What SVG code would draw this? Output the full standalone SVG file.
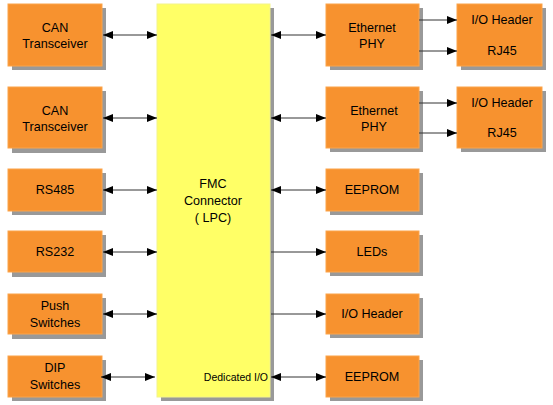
<svg xmlns="http://www.w3.org/2000/svg" width="553" height="405" viewBox="0 0 553 405">
<defs>
<marker id="ah" viewBox="0 0 10 8" refX="10" refY="4" markerWidth="10" markerHeight="8" markerUnits="userSpaceOnUse" orient="auto-start-reverse">
<path d="M0,0 L10,4 L0,8 z" fill="#000"/>
</marker>
<style>
.box{fill:#F7922F;stroke:#FBA44A;stroke-width:1}
.sh{fill:#999}
.fmc{fill:#FFFF66;stroke:#F4F48A;stroke-width:1}
text{font-family:"Liberation Sans",Arial,sans-serif;font-size:12.6px;fill:#000;text-anchor:middle}
.c line{stroke:#333;stroke-width:1}
</style>
</defs>
<rect width="553" height="405" fill="#fff"/>

<g id="fmc">
<rect class="sh" x="161" y="8" width="113" height="393"/>
<rect class="fmc" x="157" y="4" width="113" height="393"/>
<text x="213" y="188">FMC</text>
<text x="213" y="205">Connector</text>
<text x="213" y="222">( LPC)</text>
<text x="268" y="381" style="text-anchor:end;font-size:10.5px">Dedicated I/O</text>
</g>

<g id="can1">
<rect class="sh" x="12" y="8" width="94" height="62"/>
<rect class="box" x="8" y="4" width="94" height="62"/>
<text x="55" y="32">CAN</text>
<text x="55" y="48">Transceiver</text>
</g>
<g id="can2">
<rect class="sh" x="12" y="91" width="94" height="62"/>
<rect class="box" x="8" y="87" width="94" height="61"/>
<text x="55" y="115">CAN</text>
<text x="55" y="131">Transceiver</text>
</g>
<g id="rs485">
<rect class="sh" x="12" y="173" width="94" height="42"/>
<rect class="box" x="8" y="169" width="94" height="42"/>
<text x="55" y="194">RS485</text>
</g>
<g id="rs232">
<rect class="sh" x="12" y="235" width="94" height="42"/>
<rect class="box" x="8" y="231" width="94" height="41"/>
<text x="55" y="256">RS232</text>
</g>
<g id="push">
<rect class="sh" x="12" y="298" width="94" height="41"/>
<rect class="box" x="8" y="294" width="94" height="40"/>
<text x="55" y="310">Push</text>
<text x="55" y="327">Switches</text>
</g>
<g id="dip">
<rect class="sh" x="12" y="360" width="94" height="41"/>
<rect class="box" x="8" y="356" width="94" height="41"/>
<text x="55" y="372">DIP</text>
<text x="55" y="389">Switches</text>
</g>

<g id="eth1">
<rect class="sh" x="330" y="8" width="93" height="62"/>
<rect class="box" x="326" y="4" width="93" height="62"/>
<text x="372" y="32">Ethernet</text>
<text x="372" y="48">PHY</text>
</g>
<g id="hdr1">
<rect class="sh" x="461" y="8" width="85" height="62"/>
<rect class="box" x="457" y="4" width="85" height="62"/>
<text x="502" y="24">I/O Header</text>
<text x="502" y="55">RJ45</text>
</g>
<g id="eth2">
<rect class="sh" x="330" y="91" width="93" height="61"/>
<rect class="box" x="326" y="87" width="93" height="61"/>
<text x="374" y="115">Ethernet</text>
<text x="374" y="131">PHY</text>
</g>
<g id="hdr2">
<rect class="sh" x="461" y="91" width="85" height="61"/>
<rect class="box" x="457" y="87" width="85" height="61"/>
<text x="502" y="107">I/O Header</text>
<text x="502" y="137">RJ45</text>
</g>
<g id="eeprom1">
<rect class="sh" x="330" y="173" width="93" height="42"/>
<rect class="box" x="326" y="169" width="93" height="42"/>
<text x="372" y="194">EEPROM</text>
</g>
<g id="leds">
<rect class="sh" x="330" y="235" width="93" height="41"/>
<rect class="box" x="326" y="231" width="93" height="41"/>
<text x="372" y="256">LEDs</text>
</g>
<g id="iohdr">
<rect class="sh" x="330" y="298" width="93" height="40"/>
<rect class="box" x="326" y="294" width="93" height="40"/>
<text x="372" y="318">I/O Header</text>
</g>
<g id="eeprom2">
<rect class="sh" x="330" y="360" width="93" height="41"/>
<rect class="box" x="326" y="356" width="93" height="41"/>
<text x="372" y="381">EEPROM</text>
</g>

<g id="connectors" class="c">
<line x1="103" y1="35" x2="157" y2="35" marker-start="url(#ah)" marker-end="url(#ah)"/>
<line x1="103" y1="118" x2="157" y2="118" marker-start="url(#ah)" marker-end="url(#ah)"/>
<line x1="103" y1="190" x2="157" y2="190" marker-start="url(#ah)" marker-end="url(#ah)"/>
<line x1="103" y1="252" x2="157" y2="252" marker-start="url(#ah)" marker-end="url(#ah)"/>
<line x1="103" y1="314" x2="157" y2="314" marker-start="url(#ah)" marker-end="url(#ah)"/>
<line x1="101" y1="377" x2="155" y2="377" marker-start="url(#ah)" marker-end="url(#ah)"/>
<line x1="271" y1="35" x2="326" y2="35" marker-start="url(#ah)" marker-end="url(#ah)"/>
<line x1="271" y1="118" x2="326" y2="118" marker-start="url(#ah)" marker-end="url(#ah)"/>
<line x1="271" y1="190" x2="326" y2="190" marker-start="url(#ah)" marker-end="url(#ah)"/>
<line x1="271" y1="252" x2="326" y2="252" marker-end="url(#ah)"/>
<line x1="271" y1="314" x2="326" y2="314" marker-end="url(#ah)"/>
<line x1="271" y1="377" x2="326" y2="377" marker-start="url(#ah)" marker-end="url(#ah)"/>
<line x1="419" y1="20" x2="457" y2="20" marker-end="url(#ah)"/>
<line x1="419" y1="51" x2="457" y2="51" marker-end="url(#ah)"/>
<line x1="419" y1="103" x2="457" y2="103" marker-end="url(#ah)"/>
<line x1="419" y1="133" x2="457" y2="133" marker-end="url(#ah)"/>
</g>
</svg>
